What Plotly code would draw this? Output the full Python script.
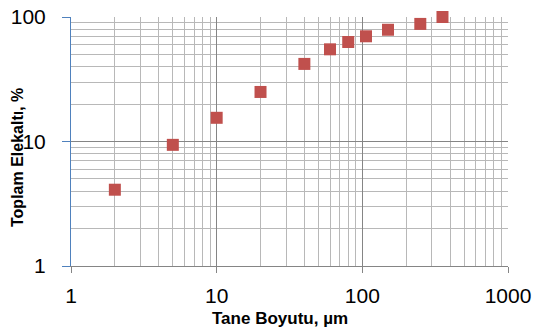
import plotly.graph_objects as go

grain_size_um = [2, 5, 10, 20, 40, 60, 80, 106, 150, 250, 355]
passing_pct = [4.1, 9.4, 15.5, 25, 42, 55, 63, 70, 79, 88, 100]

x_major = [1, 10, 100, 1000]
x_major_text = ["1", "10", "100", "1000"]
y_major = [1, 10, 100]
y_major_text = ["1", "10", "100"]
x_minor = [m * d for d in (1, 10, 100) for m in range(2, 10)]
y_minor = [m * d for d in (1, 10) for m in range(2, 10)]

MAJOR = "#858585"
MINOR = "#B8B8B8"
FONT = "Liberation Sans, Arial, sans-serif"

fig = go.Figure(go.Scatter(
    x=grain_size_um, y=passing_pct, mode="markers", cliponaxis=False,
    marker=dict(symbol="square", size=12, color="#C0504D",
                line=dict(color="#C0504D", width=0)),
    showlegend=False,
))

fig.update_layout(
    width=534, height=332,
    margin=dict(l=71, r=26, t=17, b=66),
    paper_bgcolor="white", plot_bgcolor="white",
    font=dict(family=FONT, color="#000000"),
    xaxis=dict(
        type="log", range=[0, 3], automargin=False,
        tickvals=x_major, ticktext=x_major_text,
        tickfont=dict(size=21), ticks="outside", ticklen=6, tickcolor=MAJOR,
        showline=True, linecolor=MAJOR, linewidth=1,
        showgrid=True, gridcolor=MAJOR, gridwidth=1,
        minor=dict(tickvals=x_minor, showgrid=True, gridcolor=MINOR, gridwidth=1.2, ticks=""),
        ticklabelstandoff=5,
        zeroline=False,
    ),
    yaxis=dict(
        type="log", range=[0, 2], automargin=False,
        tickvals=y_major, ticktext=y_major_text,
        tickfont=dict(size=21), ticks="outside", ticklen=8, tickcolor="#4F81BD",
        showline=True, linecolor="#4F81BD", linewidth=1,
        showgrid=True, gridcolor=MAJOR, gridwidth=1,
        minor=dict(tickvals=y_minor, showgrid=True, gridcolor=MINOR, gridwidth=1.2, ticks=""),
        ticklabelstandoff=12,
        zeroline=False,
    ),
    annotations=[
        dict(text="<b>Tane Boyutu, µm</b>", x=280, y=318,
             showarrow=False, font=dict(size=17)),
        dict(text="<b>Toplam Elekaltı, %</b>", x=17, y=158, textangle=-90,
             showarrow=False, font=dict(size=16)),
    ],
)

# place annotations in pixel coordinates of the page
pw, ph = 534 - 71 - 26, 332 - 17 - 66
for a in fig.layout.annotations:
    a.x = (a.x - 71) / pw
    a.y = 1 - (a.y - 17) / ph
    a.xref = "paper"
    a.yref = "paper"
    a.xanchor = "center"
    a.yanchor = "middle"

fig.write_html("out.html", config={"displayModeBar": False},
               post_script="document.body.style.margin='0';")
